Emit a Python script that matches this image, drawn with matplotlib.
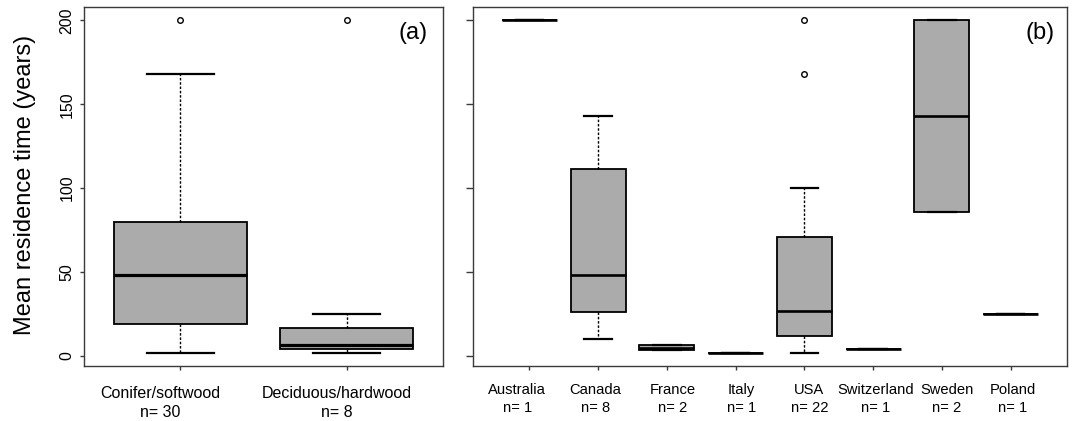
"""Mean residence time boxplots: (a) by wood type, (b) by country."""

import matplotlib.pyplot as plt
from matplotlib.transforms import ScaledTranslation

plt.rcParams["font.family"] = ["Liberation Sans", "DejaVu Sans"]

# (a) wood type summaries (years)
wood_types = ["Conifer/softwood", "Deciduous/hardwood"]
wood_n = [30, 8]
wood_med = [48, 6.5]
wood_q1 = [19, 4]
wood_q3 = [80, 16.5]
wood_lo = [2, 2]
wood_hi = [168, 25]
wood_out = [[200], [200]]

# (b) country summaries (years)
countries = ["Australia", "Canada", "France", "Italy", "USA",
             "Switzerland", "Sweden", "Poland"]
country_n = [1, 8, 2, 1, 22, 1, 2, 1]
country_med = [200, 48, 5, 2, 27, 4, 143, 25]
country_q1 = [200, 26, 3.6, 2, 12, 4, 86, 25]
country_q3 = [200, 111.5, 6.4, 2, 71, 4, 200, 25]
country_lo = [200, 10, 3.6, 2, 2, 4, 86, 25]
country_hi = [200, 143, 6.4, 2, 100, 4, 200, 25]
country_out = [[], [], [], [], [168, 200], [], [], []]

y_ticks = [0, 50, 100, 150, 200]

BOX_FILL = "#ABABAB"
FRAME = "#3a3a3a"


def make_stats(names, med, q1, q3, lo, hi, out):
    return [dict(label=nm, med=m, q1=a, q3=b, whislo=l, whishi=h, fliers=f)
            for nm, m, a, b, l, h, f in zip(names, med, q1, q3, lo, hi, out)]


def draw_boxes(ax, stats, median_lw):
    pos = list(range(1, len(stats) + 1))
    ax.bxp(stats, positions=pos, widths=0.8, capwidths=0.4,
           patch_artist=True, manage_ticks=False,
           boxprops=dict(facecolor=BOX_FILL, edgecolor="black", linewidth=1.3),
           medianprops=dict(color="black", linewidth=median_lw),
           whiskerprops=dict(color="black", linewidth=1.0,
                             linestyle=(0, (1.8, 1.3))),
           capprops=dict(color="black", linewidth=1.6),
           flierprops=dict(marker="o", markersize=4, markerfacecolor="none",
                           markeredgecolor="black", markeredgewidth=1.0))
    return pos


def style_frame(ax):
    for sp in ax.spines.values():
        sp.set_color(FRAME)
        sp.set_linewidth(1.0)
    ax.set_ylim(-5.92, 207.92)
    ax.set_yticks(y_ticks)


def shift_labels(fig, labels, dx_px):
    for lab, dx in zip(labels, dx_px):
        lab.set_transform(lab.get_transform()
                          + ScaledTranslation(dx / 100, 0, fig.dpi_scale_trans))


fig = plt.figure(figsize=(10.74, 4.21), dpi=100)
W, H = 1074, 421
ax1 = fig.add_axes([84 / W, 1 - 366 / H, (443 - 84) / W, (366 - 7) / H])
ax2 = fig.add_axes([473 / W, 1 - 366 / H, (1067 - 473) / W, (366 - 7) / H])

# panel (a)
pos1 = draw_boxes(ax1, make_stats(wood_types, wood_med, wood_q1, wood_q3,
                                  wood_lo, wood_hi, wood_out), 2.3)
style_frame(ax1)
ax1.set_xlim(0.42, 2.58)
ax1.set_xticks(pos1, [f"{t}\nn= {n}" for t, n in zip(wood_types, wood_n)],
               fontsize=11.5, linespacing=1.35)
ax1.tick_params(axis="x", length=3, width=1, color=FRAME, pad=11.5)
ax1.tick_params(axis="y", length=3, width=1, color=FRAME, pad=4,
                labelsize=11.5)
for lab in ax1.get_yticklabels():
    lab.set_rotation(90)
    lab.set_va("center")
shift_labels(fig, ax1.get_xticklabels(), [-20, -10])
ax1.text(413 / W, 1 - 33 / H, "(a)", transform=fig.transFigure,
         ha="center", va="center", fontsize=17)

# panel (b)
pos2 = draw_boxes(ax2, make_stats(countries, country_med, country_q1,
                                  country_q3, country_lo, country_hi,
                                  country_out), 1.9)
style_frame(ax2)
ax2.set_xlim(0.18, 8.82)
ax2.set_xticks(pos2, [f"{c}\nn= {n}" for c, n in zip(countries, country_n)],
               fontsize=10.6, linespacing=1.38)
ax2.tick_params(axis="x", length=3, width=1, color=FRAME, pad=9)
ax2.tick_params(axis="y", length=5, width=1, color=FRAME, labelleft=False)
shift_labels(fig, ax2.get_xticklabels(), [-12, -3, 6, 6, 5, 3, 5, 2])
ax2.text(1040 / W, 1 - 33 / H, "(b)", transform=fig.transFigure,
         ha="center", va="center", fontsize=17)

fig.text(25 / W, 1 - 185 / H, "Mean residence time (years)", rotation=90,
         ha="center", va="center", fontsize=17)

fig.savefig("out.png", dpi=100)
